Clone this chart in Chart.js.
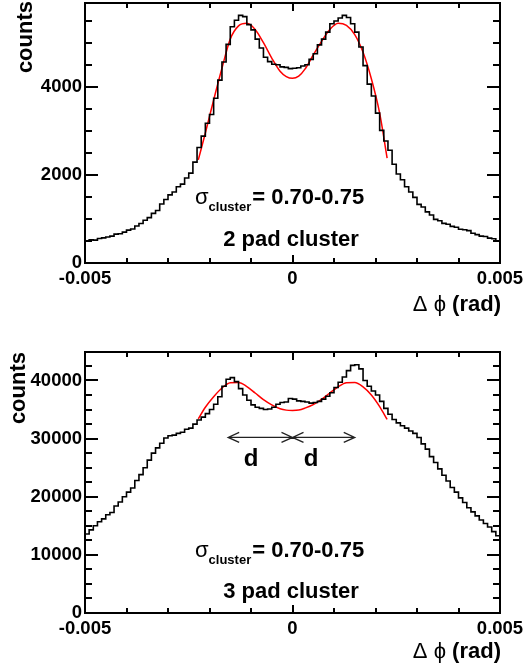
<!DOCTYPE html>
<html>
<head>
<meta charset="utf-8">
<script src="https://cdn.jsdelivr.net/npm/chart.js@4.4.0/dist/chart.umd.min.js"></script>
<style>
  body { margin: 0; background: #fff; }
  canvas { position: absolute; left: 0; }
</style>
</head>
<body>
<canvas id="twoPad" width="528" height="335" style="top:0"></canvas>
<canvas id="threePad" width="528" height="335" style="top:335px"></canvas>
<script>
// delta phi binning (rad), 100 bins from -0.005 to 0.005
var binLow = -0.005;
var binWidth = 0.0001;

// 2 pad cluster counts per bin
var twoPadCounts = [
  505, 525, 520, 555, 570, 590, 610, 655, 665, 700,
  745, 770, 840, 895, 970, 1030, 1125, 1190, 1340, 1440,
  1545, 1610, 1730, 1790, 1930, 2040, 2290, 2620, 2880, 3170,
  3370, 3740, 4150, 4560, 4960, 5360, 5510, 5620, 5590, 5410,
  5290, 5080, 4880, 4670, 4570, 4510, 4500, 4450, 4440, 4410,
  4420, 4430, 4470, 4500, 4620, 4750, 4950, 5080, 5240, 5430,
  5490, 5560, 5620, 5570, 5430, 5240, 4900, 4480, 4060, 3790,
  3400, 3010, 2770, 2560, 2240, 2020, 1890, 1730, 1610, 1490,
  1330, 1270, 1160, 1090, 990, 960, 900, 880, 830, 810,
  765, 755, 735, 675, 645, 610, 600, 565, 550, 505
];

// 3 pad cluster counts per bin
var threePadCounts = [
  13600, 14300, 15000, 15700, 16200, 16900, 17300, 18400, 19100, 20000,
  20800, 21500, 22800, 23800, 25000, 26300, 27500, 28400, 29200, 30100,
  30500, 30600, 30900, 31100, 31600, 31800, 32500, 33200, 33700, 34300,
  35000, 35900, 37200, 39000, 40200, 40500, 39800, 38600, 37500, 36600,
  35800, 35400, 35200, 35000, 35100, 35400, 35900, 36200, 36300, 36900,
  36800, 36500, 36400, 36300, 36100, 36200, 36400, 36800, 37300, 37900,
  38800, 39700, 40600, 41700, 42600, 42700, 42000, 40000, 39000, 38200,
  37500, 36400, 35200, 34200, 33300, 32700, 32200, 31800, 31300, 30900,
  30200, 29100, 28200, 26900, 25900, 24800, 23700, 22700, 21600, 20800,
  19800, 19000, 18100, 17400, 16700, 16000, 15400, 14800, 14000, 13300
];

// fit curves (red)
var fitPhi = [-0.00227, -0.0021, -0.0019, -0.0017, -0.0015, -0.0013, -0.0011, -0.0009,
  -0.0007, -0.0005, -0.0003, -0.00015, 0, 0.00015, 0.0003, 0.0005, 0.0007, 0.0009,
  0.0011, 0.0013, 0.0015, 0.0017, 0.0019, 0.0021, 0.00228];
var twoPadFit = [2340, 2950, 3700, 4420, 5080, 5380, 5440, 5300,
  5000, 4650, 4350, 4230, 4190, 4240, 4400, 4720, 5030, 5300,
  5440, 5390, 5180, 4780, 4180, 3400, 2380];
var threePadFit = [33400, 35400, 37200, 38700, 39600, 39650, 38950, 37850,
  36700, 35800, 35150, 34900, 34850, 34920, 35250, 35850, 36750, 37850,
  38900, 39600, 39650, 38900, 37500, 35500, 33300];

// tick labels
var xTickValues = [-0.005, 0, 0.005];
var xTickLabels = ['-0.005', '0', '0.005'];
var twoPadYLabels = [0, 2000, 4000];
var threePadYLabels = [0, 10000, 20000, 30000, 40000];

// the "d" arrows in the 3 pad panel
var arrowPhi = [-0.00155, 0, 0.0015];
var arrowCounts = 30200;
var dLabelPhi = [-0.001, 0.00045];

var FONT = '"Liberation Sans", Arial, Helvetica, sans-serif';

function rootFrame(o) {
  return {
    id: 'rootFrame',
    afterDraw: function (chart) {
      var ctx = chart.ctx, a = chart.chartArea;
      var xs = chart.scales.x, ys = chart.scales.y;
      ctx.save();
      ctx.fillStyle = '#000';
      ctx.strokeStyle = '#000';
      // inward ticks on all four sides
      var k, v, px, py, len;
      for (k = -5; k <= 5; k++) {
        px = Math.round(xs.getPixelForValue(k / 1000)) - 1;
        len = (k % 5 === 0) ? 8 : 5;
        ctx.fillRect(px, a.bottom - len, 2, len);
        ctx.fillRect(px, a.top, 2, len);
      }
      for (v = 0; v <= o.yMax; v += o.yMinor) {
        py = Math.round(ys.getPixelForValue(v)) - 1;
        len = (v % o.yMajor === 0) ? 13 : 7;
        ctx.fillRect(a.left, py, len, 2);
        ctx.fillRect(a.right - len, py, len, 2);
      }
      ctx.lineWidth = 2;
      ctx.strokeRect(a.left, a.top, a.right - a.left, a.bottom - a.top);

      // sigma text
      var x0 = o.sigmaX, b = o.sigmaBase;
      ctx.textAlign = 'left';
      ctx.textBaseline = 'alphabetic';
      ctx.font = '22px ' + FONT;
      ctx.fillText('\u03c3', x0, b);
      x0 += ctx.measureText('\u03c3').width;
      ctx.font = 'bold 13px ' + FONT;
      ctx.fillText('cluster', x0, b + 7);
      x0 += ctx.measureText('cluster').width + 1;
      ctx.font = 'bold 22px ' + FONT;
      ctx.fillText('= 0.70-0.75', x0, b);

      ctx.textAlign = 'center';
      ctx.fillText(o.padText, 291, o.padBase);

      // y title
      ctx.save();
      ctx.translate(o.countsX, o.countsTop);
      ctx.rotate(-Math.PI / 2);
      ctx.textAlign = 'right';
      ctx.fillText('counts', 0, 0);
      ctx.restore();

      // x title
      var parts = [['\u0394 ', '22px '], ['\u03d5 ', '22px '], ['(rad)', 'bold 22px ']];
      var total = 0;
      parts.forEach(function (p) { ctx.font = p[1] + FONT; total += ctx.measureText(p[0]).width; });
      var tx = a.right + 1 - total;
      ctx.textAlign = 'left';
      parts.forEach(function (p) {
        ctx.font = p[1] + FONT;
        ctx.fillText(p[0], tx, o.titleBase);
        tx += ctx.measureText(p[0]).width;
      });

      if (o.arrows) {
        var ay = ys.getPixelForValue(arrowCounts);
        ctx.strokeStyle = '#222';
        ctx.lineWidth = 1.3;
        ctx.beginPath();
        for (var i = 0; i < arrowPhi.length - 1; i++) {
          var x1 = xs.getPixelForValue(arrowPhi[i]);
          var x2 = xs.getPixelForValue(arrowPhi[i + 1]);
          ctx.moveTo(x1, ay); ctx.lineTo(x2, ay);
          ctx.moveTo(x1 + 11, ay - 5); ctx.lineTo(x1, ay); ctx.lineTo(x1 + 11, ay + 5);
          ctx.moveTo(x2 - 11, ay - 5); ctx.lineTo(x2, ay); ctx.lineTo(x2 - 11, ay + 5);
        }
        ctx.stroke();
        ctx.font = 'bold 24px ' + FONT;
        ctx.textAlign = 'center';
        dLabelPhi.forEach(function (p) {
          ctx.fillText('d', xs.getPixelForValue(p), ay + 29);
        });
      }
      ctx.restore();
    }
  };
}

function makeChart(id, counts, fit, yMax, yMinor, yLabels, pad, o) {
  var hist = counts.map(function (c, i) { return { x: binLow + i * binWidth, y: c }; });
  hist.push({ x: binLow + counts.length * binWidth, y: counts[counts.length - 1] });
  var fitPts = fitPhi.map(function (p, i) { return { x: p, y: fit[i] }; });
  var tickFont = { family: FONT, size: 18.5, weight: 'bold' };
  o.yMax = yMax;
  o.yMinor = yMinor;

  return new Chart(document.getElementById(id), {
    type: 'line',
    data: {
      datasets: [{
        data: hist,
        stepped: 'before',
        borderColor: '#000',
        borderWidth: 1.6,
        pointRadius: 0,
        fill: false
      }, {
        data: fitPts,
        borderColor: '#ff0000',
        borderWidth: 1.5,
        pointRadius: 0,
        cubicInterpolationMode: 'monotone',
        fill: false
      }]
    },
    options: {
      responsive: false,
      animation: false,
      devicePixelRatio: 1,
      layout: { autoPadding: false, padding: pad },
      plugins: { legend: { display: false }, tooltip: { enabled: false } },
      scales: {
        x: {
          type: 'linear', min: -0.005, max: 0.005,
          afterFit: function (s) {
            s.height = 40; s.paddingLeft = 0; s.paddingRight = 0;
          },
          afterBuildTicks: function (s) {
            var t = [];
            for (var k = -5; k <= 5; k++) t.push({ value: k / 1000 });
            s.ticks = t;
          },
          grid: { display: false, drawTicks: false },
          border: { display: false },
          ticks: {
            autoSkip: false, maxRotation: 0, padding: 5,
            color: '#000', font: tickFont,
            callback: function (v) {
              for (var i = 0; i < xTickValues.length; i++) {
                if (Math.abs(v - xTickValues[i]) < 1e-9) return xTickLabels[i];
              }
              return '';
            }
          }
        },
        y: {
          type: 'linear', min: 0, max: yMax,
          afterFit: function (s) {
            s.width = 85; s.paddingTop = 0; s.paddingBottom = 0;
          },
          afterBuildTicks: function (s) {
            var t = [];
            for (var v = 0; v <= yMax; v += yMinor) t.push({ value: v });
            s.ticks = t;
          },
          grid: { display: false, drawTicks: false },
          border: { display: false },
          ticks: {
            autoSkip: false, padding: 3,
            color: '#000', font: tickFont,
            callback: function (v) { return yLabels.indexOf(v) >= 0 ? String(v) : ''; }
          }
        }
      }
    },
    plugins: [rootFrame(o)]
  });
}

makeChart('twoPad', twoPadCounts, twoPadFit, 5900, 500, twoPadYLabels,
  { top: 3, right: 28, bottom: 32, left: 0 },
  { yMajor: 2000, sigmaX: 195, sigmaBase: 204, padText: '2 pad cluster', padBase: 246,
    countsX: 32, countsTop: 1, titleBase: 311, arrows: false });

makeChart('threePad', threePadCounts, threePadFit, 44900, 2500, threePadYLabels,
  { top: 17, right: 28, bottom: 17, left: 0 },
  { yMajor: 10000, sigmaX: 195, sigmaBase: 222, padText: '3 pad cluster', padBase: 263,
    countsX: 25, countsTop: 17, titleBase: 323, arrows: true });
</script>
</body>
</html>
